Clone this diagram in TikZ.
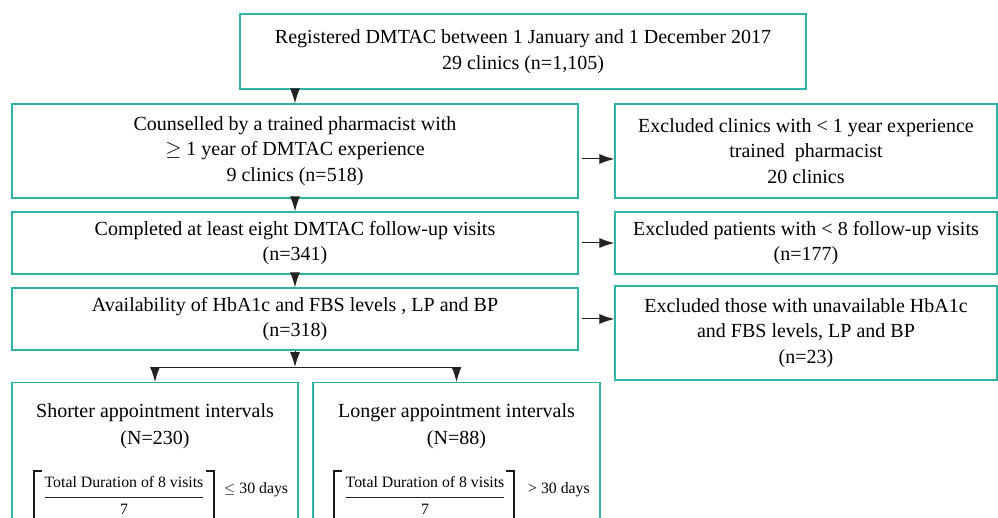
\documentclass[tikz,border=0pt]{standalone}
\usepackage{amsmath}
\usepackage{fontspec}
\setmainfont{Liberation Serif}
\usetikzlibrary{arrows.meta}
\definecolor{tealline}{HTML}{2EB3A6}
\definecolor{arrowgray}{HTML}{222222}
\begin{document}
\begin{tikzpicture}[x=1pt,y=-1pt,
  box/.style={draw=tealline, line width=1.3pt, inner sep=0pt, align=center,
    font=\fontsize{20}{25.5}\selectfont},
  txt/.style={inner sep=0pt, align=center, font=\fontsize{20}{27}\selectfont},
  formula/.style={inner sep=0pt, font=\fontsize{15.8}{17}\selectfont},
  stem/.style={draw=black!90, line width=2.6pt, line cap=butt},
  serif/.style={draw=black!90, line width=1.8pt, line cap=butt},
  fracline/.style={draw=black!85, line width=0.8pt},
  arr/.style={draw=arrowgray, line width=1pt, -{Latex[length=15pt,width=10pt]}}]
\useasboundingbox (0,0) rectangle (998,518);

\node[box, minimum width=566, minimum height=75] (reg) at (523,51.5)
  {Registered DMTAC between 1 January and 1 December 2017\\29 clinics (n=1,105)};
\node[box, minimum width=566, minimum height=94] (couns) at (295,151)
  {Counselled by a trained pharmacist with\\$\geq$ 1 year of DMTAC experience\\9 clinics (n=518)};
\node[box, minimum width=382, minimum height=94] (excl1) at (806,151)
  {Excluded clinics with < 1 year experience\\trained\ \ pharmacist\\20 clinics};
\node[box, minimum width=566, minimum height=62] (comp) at (295,243)
  {Completed at least eight DMTAC follow-up visits\\(n=341)};
\node[box, minimum width=382, minimum height=62] (excl2) at (806,243)
  {Excluded patients with < 8 follow-up visits\\(n=177)};
\node[box, minimum width=566, minimum height=62] (avail) at (295,319)
  {Availability of HbA1c and FBS levels , LP and BP\\(n=318)};
\node[box, minimum width=382, minimum height=94] (excl3) at (806,333)
  {Excluded those with unavailable HbA1c\\and FBS levels, LP and BP\\(n=23)};

\node[box, anchor=north, minimum width=286, minimum height=160] (short) at (155,382) {};
\node[box, anchor=north, minimum width=287, minimum height=160] (long) at (456.5,382) {};

\node[txt] (shorttxt) at (155,426) {Shorter appointment intervals\\(N=230)};
\node[txt] (longtxt) at (456.5,426) {Longer appointment intervals\\(N=88)};

% formula, shorter
\node[formula, anchor=base] (snum) at (124,487) {Total Duration of 8 visits};
\node[formula, anchor=base] (sden) at (124,514) {7};
\draw[fracline] (45,497) -- (203,497);
\draw[stem] (34,470) -- (34,530);
\draw[serif] (32.7,471) -- (42,471);
\draw[stem] (214,470) -- (214,530);
\draw[serif] (206,471) -- (215.3,471);
\node[formula, anchor=base west] (scond) at (224,493) {$\leq$ 30 days};

% formula, longer
\node[formula, anchor=base] (lnum) at (425,487) {Total Duration of 8 visits};
\node[formula, anchor=base] (lden) at (425,514) {7};
\draw[fracline] (346,497) -- (504,497);
\draw[stem] (334,470) -- (334,530);
\draw[serif] (332.7,471) -- (342,471);
\draw[stem] (514,470) -- (514,530);
\draw[serif] (506,471) -- (515.3,471);
\node[formula, anchor=base west] (lcond) at (528,493) {> 30 days};

\draw[arr] (couns.north |- reg.south) -- (couns.north);
\draw[arr] (couns.north |- couns.south) -- (couns.north |- comp.north);
\draw[arr] (couns.north |- comp.south) -- (couns.north |- avail.north);

\draw[arr] ([shift={(3,8)}]couns.east) -- ([shift={(0,8)}]excl1.west);
\draw[arr] ([shift={(3,0)}]comp.east) -- (excl2.west);
\draw[arr] ([shift={(3,0)}]avail.east) -- (avail.east -| excl3.west);

\coordinate (split) at (295,367);
\draw[arr] (avail.south) -- (split);
\draw[arr] (split) -| (short.north);
\draw[arr] (split) -| (long.north);
\end{tikzpicture}
\end{document}
